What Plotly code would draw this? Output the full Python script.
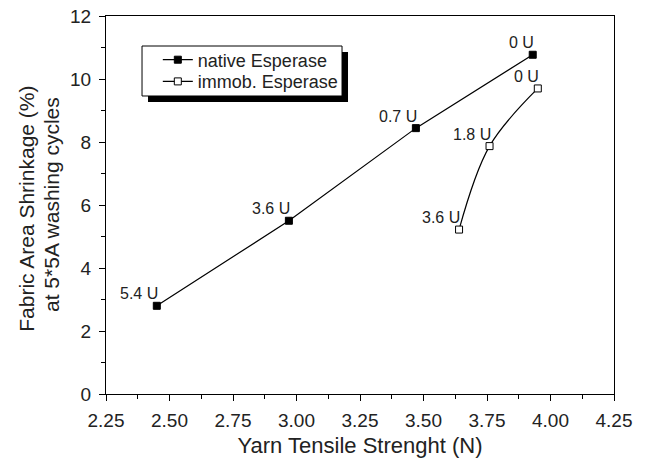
import plotly.graph_objects as go

# Data
native_x = [2.45, 2.97, 3.47, 3.93]
native_y = [2.80, 5.50, 8.44, 10.77]
native_labels = ["5.4 U", "3.6 U", "0.7 U", "0 U"]

immob_x = [3.64, 3.76, 3.95]
immob_y = [5.22, 7.87, 9.70]
immob_labels = ["3.6 U", "1.8 U", "0 U"]

x_tick_vals = [2.25, 2.50, 2.75, 3.00, 3.25, 3.50, 3.75, 4.00, 4.25]
x_tick_text = ["2.25", "2.50", "2.75", "3.00", "3.25", "3.50", "3.75", "4.00", "4.25"]
y_tick_vals = [0, 2, 4, 6, 8, 10, 12]

y_title_lines = ["Fabric Area Shrinkage (%)", "at 5*5A washing cycles"]
x_title = "Yarn Tensile Strenght (N)"

FONT = "Liberation Sans, Arial, Helvetica, sans-serif"
TXT = "#222222"

fig = go.Figure()
fig.add_trace(go.Scatter(
    x=native_x, y=native_y, mode="lines+markers", name="native Esperase",
    line=dict(color="black", width=1.2),
    marker=dict(symbol="square", size=7, color="black", line=dict(color="black", width=1)),
    cliponaxis=False, legend="legend",
))
fig.add_trace(go.Scatter(
    x=immob_x, y=immob_y, mode="lines+markers", name="immob. Esperase",
    line=dict(color="black", width=1.2, shape="spline"),
    marker=dict(symbol="square", size=7, color="white", line=dict(color="black", width=1)),
    cliponaxis=False, legend="legend2",
))

annotations = []
for xs, ys, labs in [(native_x, native_y, native_labels), (immob_x, immob_y, immob_labels)]:
    for xv, yv, lab in zip(xs, ys, labs):
        annotations.append(dict(
            x=xv, y=yv, xref="x", yref="y", text=lab, showarrow=False,
            xanchor="right", yanchor="middle", xshift=3, yshift=12,
            font=dict(family=FONT, size=16, color=TXT),
        ))

# y-axis title as two rotated lines
for line_text, xs, yv in zip(y_title_lines, [-79, -55], [0.49, 0.5]):
    annotations.append(dict(
        x=0, y=yv, xref="paper", yref="paper", text=line_text, showarrow=False,
        textangle=-90, xanchor="center", yanchor="middle", xshift=xs,
        font=dict(family=FONT, size=21, color=TXT),
    ))

legend_common = dict(
    xanchor="left", yanchor="middle",
    bgcolor="rgba(0,0,0,0)", borderwidth=0,
    font=dict(family=FONT, size=18, color=TXT),
    itemwidth=30,
)

fig.update_layout(
    width=647, height=458,
    margin=dict(l=106, r=33, t=16, b=64),
    paper_bgcolor="white", plot_bgcolor="white",
    font=dict(family=FONT, color=TXT),
    annotations=annotations,
    showlegend=True,
    legend=dict(x=0.102, y=0.8836, **legend_common),
    legend2=dict(x=0.102, y=0.8262, **legend_common),
    shapes=[
        dict(type="rect", xref="paper", yref="paper",
             x0=0.0827, x1=0.4764, y0=0.7725, y1=0.9048,
             fillcolor="black", line=dict(width=0), layer="above"),
        dict(type="rect", xref="paper", yref="paper",
             x0=0.0709, x1=0.4646, y0=0.7884, y1=0.9206,
             fillcolor="white", line=dict(color="black", width=1), layer="above"),
    ],
    xaxis=dict(
        range=[2.25, 4.25], tickvals=x_tick_vals, ticktext=x_tick_text,
        ticks="outside", ticklen=6, tickwidth=1, tickcolor="black",
        minor=dict(dtick=0.125, tick0=2.25, ticks="outside", ticklen=4, tickcolor="black"),
        showline=True, linecolor="black", linewidth=1, mirror=True,
        showgrid=False, zeroline=False, automargin=False,
        ticklabelstandoff=3,
        tickfont=dict(family=FONT, size=19, color=TXT),
        title=dict(text=x_title, font=dict(family=FONT, size=22, color=TXT), standoff=11),
    ),
    yaxis=dict(
        range=[0, 12], tickvals=y_tick_vals,
        ticks="outside", ticklen=6, tickwidth=1, tickcolor="black",
        minor=dict(dtick=1, tick0=0, ticks="outside", ticklen=4, tickcolor="black"),
        showline=True, linecolor="black", linewidth=1, mirror=True,
        showgrid=False, zeroline=False, automargin=False,
        ticklabelstandoff=4,
        tickfont=dict(family=FONT, size=19, color=TXT),
    ),
)

fig.write_html("out.html")
